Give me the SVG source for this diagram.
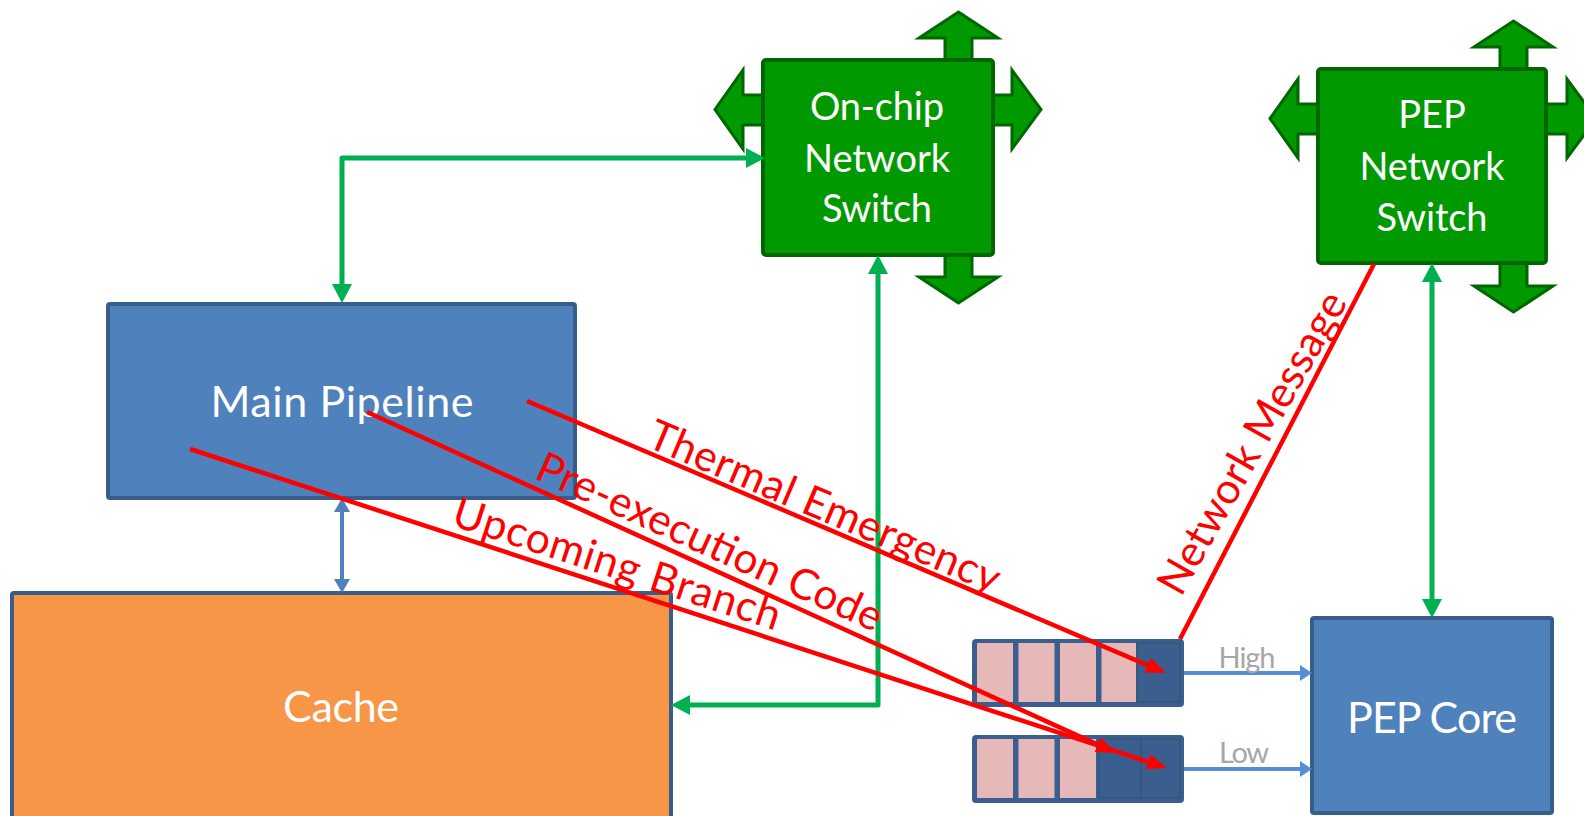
<svg xmlns="http://www.w3.org/2000/svg" xmlns:xlink="http://www.w3.org/1999/xlink" width="1584" height="816" viewBox="0 0 1584 816">
  <style>
    .blk { fill: #4f81bd; stroke: #385d8a; stroke-width: 4; }
    .cache { fill: #f79646; stroke: #385d8a; stroke-width: 4; }
    .sw { fill: #009900; stroke: #006600; stroke-width: 4; }
    .lbl { font-family: Lato, "Liberation Sans", sans-serif; fill: #ffffff; text-anchor: middle; }
    .big { font-size: 43px; }
    .swl { font-size: 38px; }
    .q { fill: #3a5f8f; }
    .cell { fill: #e6b9b8; }
    .dcell { fill: #3a5f8f; stroke: #34557f; stroke-width: 1.5; }
    .prio { font-family: Lato, "Liberation Sans", sans-serif; font-size: 29px; fill: #a6a6a6; text-anchor: middle; }
    .grn { fill: none; stroke: #00b050; stroke-width: 5; stroke-linejoin: round; }
    .bl { fill: none; stroke: #4f81bd; stroke-width: 4; }
    .lb { fill: none; stroke: #558ed5; stroke-width: 4; }
    .red { fill: none; stroke: #ff0000; stroke-width: 4.5; }
    .rlbl { font-family: Lato, "Liberation Sans", sans-serif; font-size: 42.5px; fill: #ff0000; }
  </style>
  <defs>
    <!-- four-way block arrows behind a network switch, relative to its top-left corner -->
    <g id="sw-arrows" fill="#009900" stroke="#006600" stroke-width="3" stroke-linejoin="miter">
      <polygon points="182,2 182,-22 156,-22 195.5,-48 235,-22 209,-22 209,2"/>
      <polygon points="182,193 182,217 156,217 195.5,243 235,217 209,217 209,193"/>
      <polygon points="228,35 249,35 249,10 278,49.5 249,89 249,65 228,65"/>
      <polygon points="2,35 -20,35 -20,10 -48,49.5 -20,89 -20,65 2,65"/>
    </g>
    <marker id="mGreen" viewBox="0 0 19 20" refX="7" refY="10" markerWidth="19" markerHeight="20" markerUnits="userSpaceOnUse" orient="auto-start-reverse">
      <path d="M0,0 L19,10 L0,20 z" fill="#00b050"/>
    </marker>
    <marker id="mBlue" viewBox="0 0 14 16" refX="6" refY="8" markerWidth="14" markerHeight="16" markerUnits="userSpaceOnUse" orient="auto-start-reverse">
      <path d="M0,0 L14,8 L0,16 z" fill="#4f81bd"/>
    </marker>
    <marker id="mLight" viewBox="0 0 12 16" refX="4" refY="8" markerWidth="12" markerHeight="16" markerUnits="userSpaceOnUse" orient="auto">
      <path d="M0,0 L12,8 L0,16 z" fill="#558ed5"/>
    </marker>
    <marker id="mRed" viewBox="0 0 20 16" refX="10" refY="8" markerWidth="20" markerHeight="16" markerUnits="userSpaceOnUse" orient="auto">
      <path d="M0,0 L20,8 L0,16 z" fill="#ff0000"/>
    </marker>
  </defs>

  <rect x="0" y="0" width="1584" height="816" fill="#ffffff"/>

  <!-- on-chip network switch -->
  <g id="onchip-switch" transform="translate(763,60)">
    <use xlink:href="#sw-arrows" href="#sw-arrows"/>
    <rect class="sw" x="0" y="0" width="230" height="195" rx="3"/>
    <text class="lbl swl" x="114" y="60" textLength="134" lengthAdjust="spacing">On-chip</text>
    <text class="lbl swl" x="114" y="112" textLength="146" lengthAdjust="spacing">Network</text>
    <text class="lbl swl" x="114" y="162" textLength="110" lengthAdjust="spacing">Switch</text>
  </g>

  <!-- PEP network switch -->
  <g id="pep-switch" transform="translate(1318,69)">
    <use xlink:href="#sw-arrows" href="#sw-arrows"/>
    <rect class="sw" x="0" y="0" width="228" height="194" rx="3"/>
    <text class="lbl swl" x="114" y="59">PEP</text>
    <text class="lbl swl" x="114" y="111" textLength="145" lengthAdjust="spacing">Network</text>
    <text class="lbl swl" x="114" y="162" textLength="111" lengthAdjust="spacing">Switch</text>
  </g>

  <!-- main pipeline -->
  <g id="main-pipeline">
    <rect class="blk" x="108" y="304" width="467" height="194" rx="2"/>
    <text class="lbl big" x="342" y="417" textLength="263" lengthAdjust="spacing">Main Pipeline</text>
  </g>

  <!-- cache -->
  <g id="cache">
    <rect class="cache" x="12" y="593" width="659" height="230" rx="2"/>
    <text class="lbl big" x="341" y="722" textLength="116" lengthAdjust="spacing">Cache</text>
  </g>

  <!-- PEP core -->
  <g id="pep-core">
    <rect class="blk" x="1312" y="618" width="240" height="195" rx="2"/>
    <text class="lbl big" x="1432" y="733" textLength="170" lengthAdjust="spacing">PEP Core</text>
  </g>

  <!-- high priority queue -->
  <g id="queue-high">
    <rect class="q" x="972" y="639" width="212" height="68" rx="4"/>
    <rect class="cell" x="977" y="643" width="36" height="59"/>
    <rect class="cell" x="1018.5" y="643" width="36" height="59"/>
    <rect class="cell" x="1060" y="643" width="36" height="59"/>
    <rect class="cell" x="1101.5" y="643" width="34.5" height="59"/>
    <rect class="dcell" x="1137" y="643" width="43" height="59"/>
  </g>

  <!-- low priority queue -->
  <g id="queue-low">
    <rect class="q" x="972" y="735" width="212" height="68" rx="4"/>
    <rect class="cell" x="977" y="739" width="36" height="59"/>
    <rect class="cell" x="1018.5" y="739" width="36" height="59"/>
    <rect class="cell" x="1060" y="739" width="36" height="59"/>
    <rect class="dcell" x="1099" y="739" width="42" height="59"/>
    <rect class="dcell" x="1141" y="739" width="39" height="59"/>
  </g>

  <!-- connectors -->
  <g id="connectors">
    <path class="grn" d="M753,158 L342,158 L342,291" marker-start="url(#mGreen)" marker-end="url(#mGreen)"/>
    <path class="grn" d="M878,267 L878,705 L683,705" marker-start="url(#mGreen)" marker-end="url(#mGreen)"/>
    <path class="grn" d="M1432,275 L1432,606" marker-start="url(#mGreen)" marker-end="url(#mGreen)"/>
    <path class="bl" d="M342,506 L342,585" marker-start="url(#mBlue)" marker-end="url(#mBlue)"/>

    <path class="lb" d="M1184,673 L1304,673" marker-end="url(#mLight)"/>
    <text class="prio" x="1247" y="668" textLength="57" lengthAdjust="spacing">High</text>
    <path class="lb" d="M1184,769 L1304,769" marker-end="url(#mLight)"/>
    <text class="prio" x="1244" y="763" textLength="50" lengthAdjust="spacing">Low</text>

    <path class="red" d="M527,401 L1156.8,669.1" marker-end="url(#mRed)"/>
    <path class="red" d="M367,412 L1106.9,748.9" marker-end="url(#mRed)"/>
    <path class="red" d="M190,449 L1157.5,764.9" marker-end="url(#mRed)"/>
    <path class="red" d="M1180,639 L1374,264"/>

    <text class="rlbl" transform="translate(645,446) rotate(23)" textLength="378" lengthAdjust="spacing">Thermal Emergency</text>
    <text class="rlbl" transform="translate(533,478) rotate(24.3)" textLength="375" lengthAdjust="spacing">Pre-execution Code</text>
    <text class="rlbl" transform="translate(450,525) rotate(18)" textLength="342" lengthAdjust="spacing">Upcoming Branch</text>
    <text class="rlbl" transform="translate(1181,598) rotate(-60.5)" textLength="340" lengthAdjust="spacing">Network Message</text>
  </g>
</svg>
